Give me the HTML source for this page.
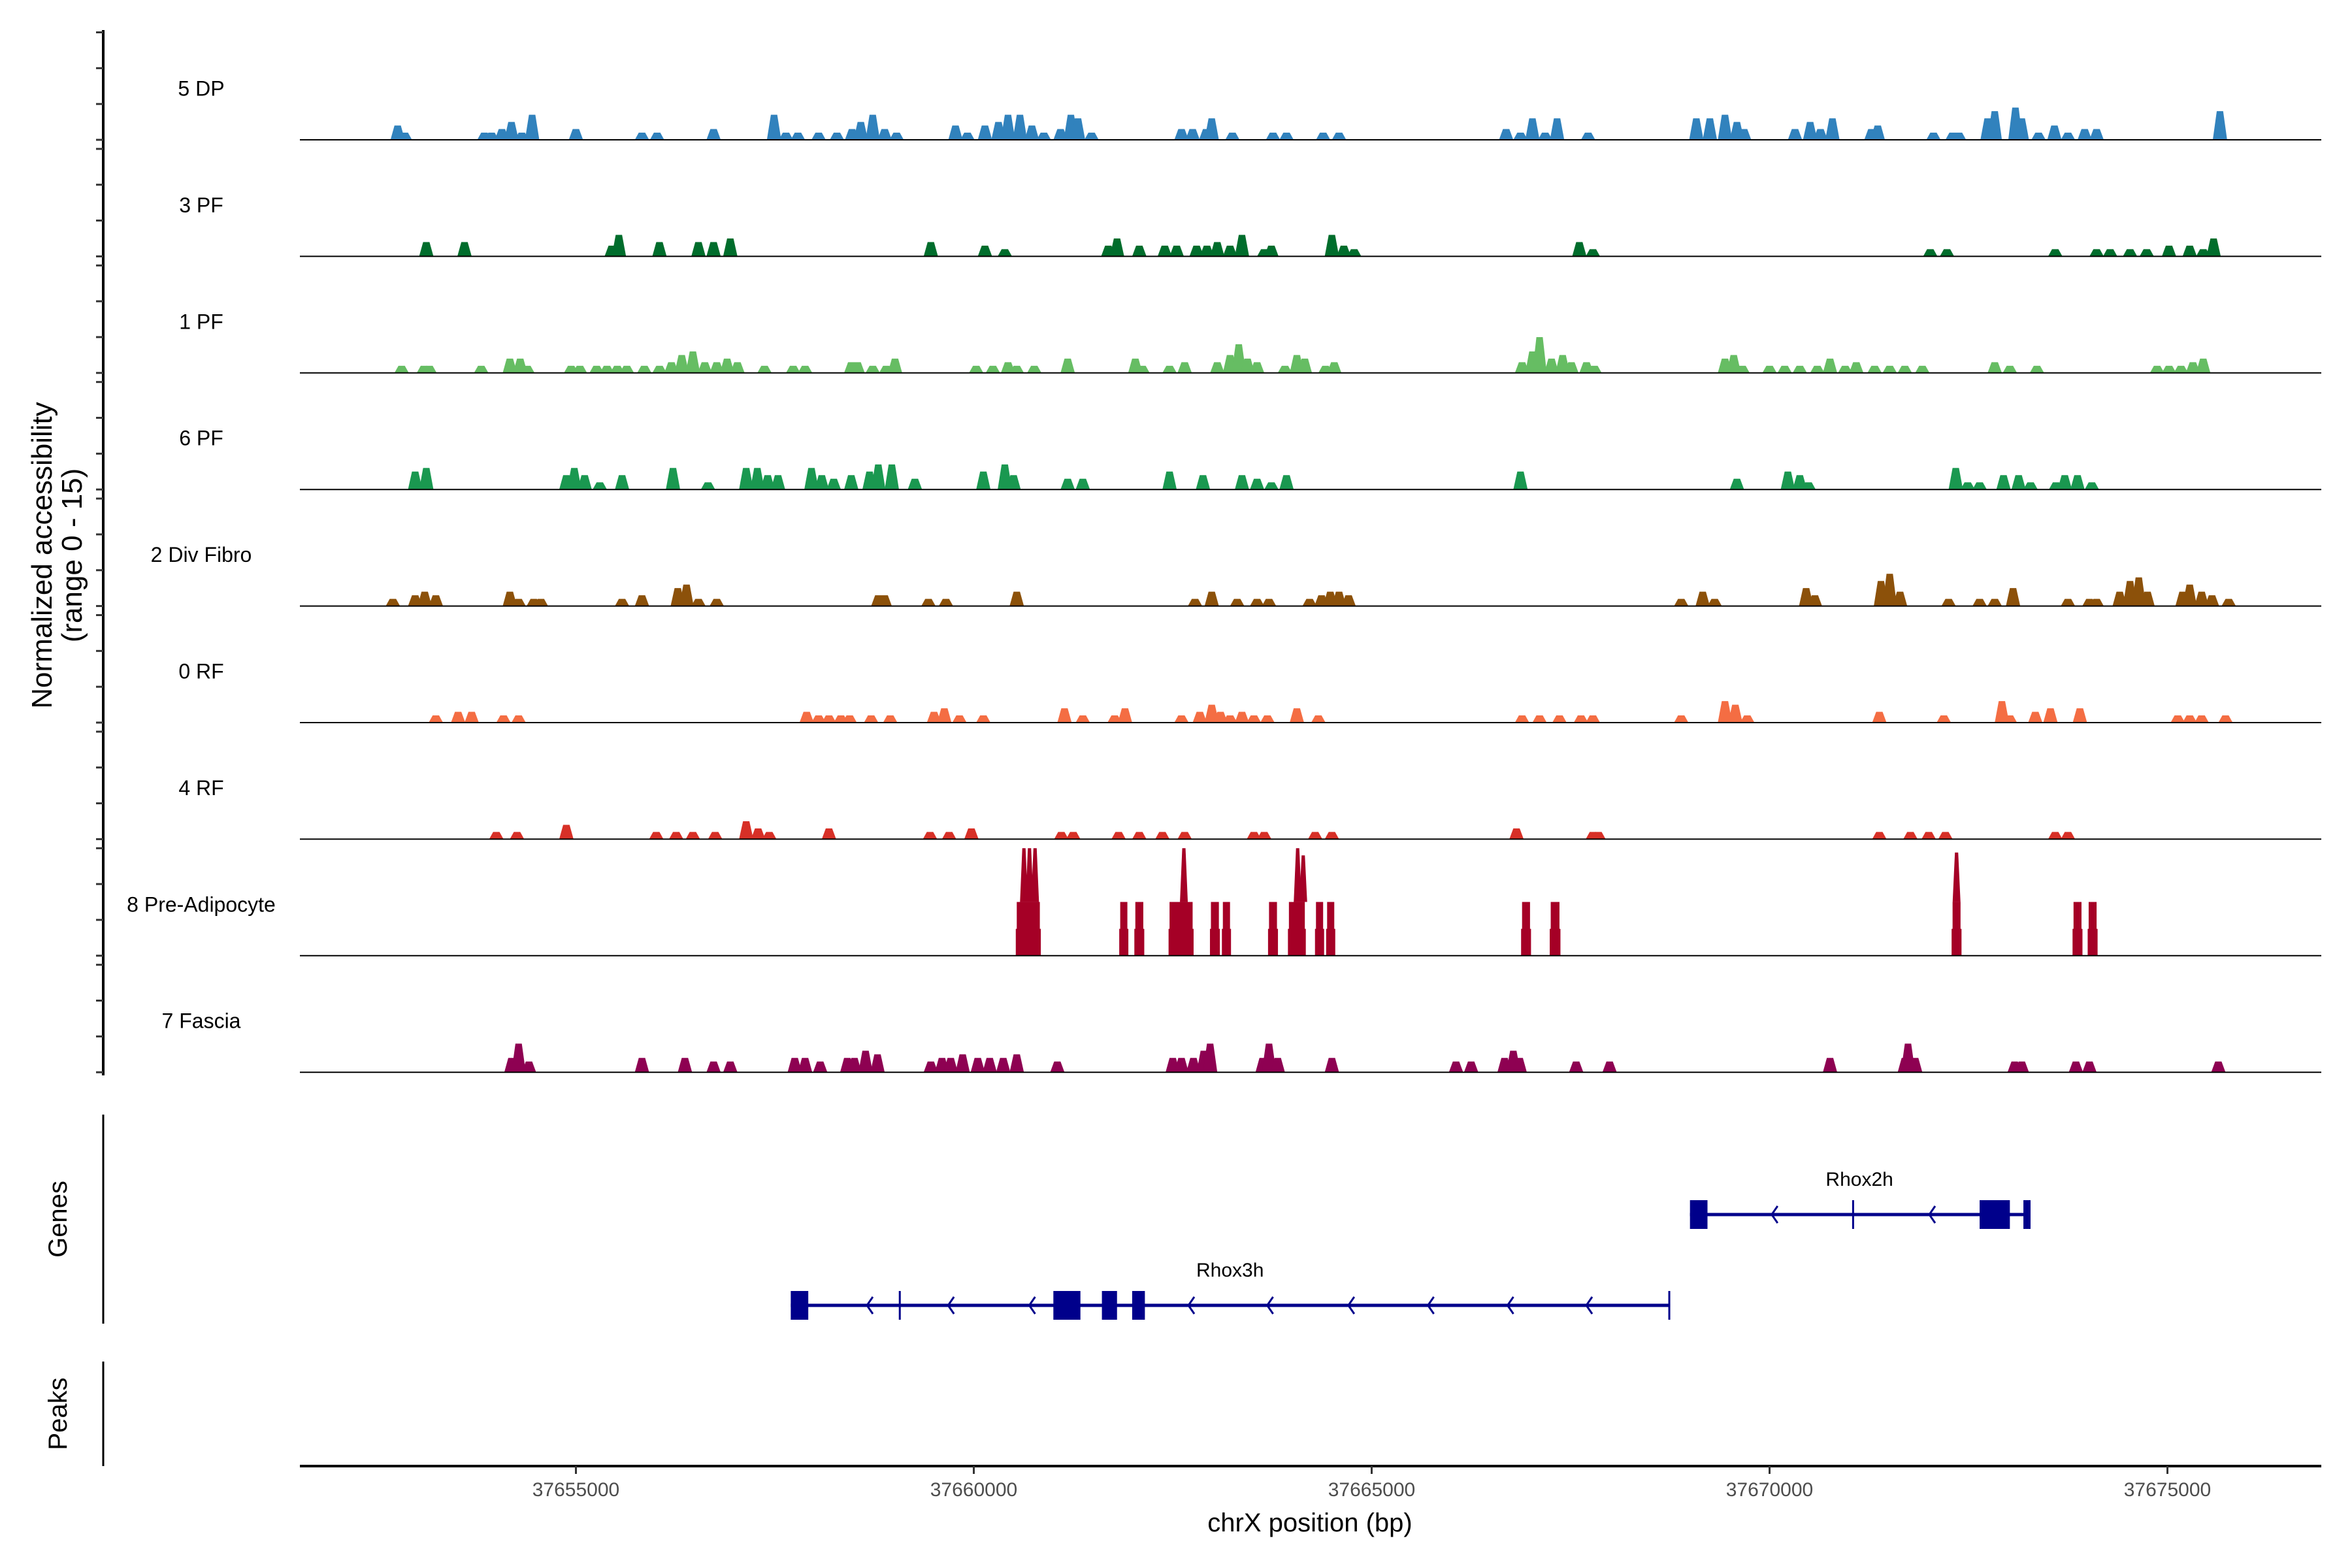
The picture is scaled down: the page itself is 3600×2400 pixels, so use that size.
<!DOCTYPE html>
<html><head><meta charset="utf-8"><style>
html,body{margin:0;padding:0;background:#fff}
svg{display:block;font-family:"Liberation Sans",Arial,sans-serif}
</style></head><body>
<svg id="chart" width="3600" height="2400" viewBox="0 0 3600 2400" xmlns="http://www.w3.org/2000/svg">
<g id="tracks"></g>
<g id="axes"></g>
<g id="genes"></g>
<text transform="translate(79,850) rotate(-90)" text-anchor="middle" font-size="44" fill="#000">Normalized accessibility</text>
<text transform="translate(125,850) rotate(-90)" text-anchor="middle" font-size="44" fill="#000">(range 0 - 15)</text>
<text transform="translate(102,1866) rotate(-90)" text-anchor="middle" font-size="40" fill="#000">Genes</text>
<text transform="translate(102,2164) rotate(-90)" text-anchor="middle" font-size="40" fill="#000">Peaks</text>
<text x="2005" y="2344" text-anchor="middle" font-size="40" fill="#000">chrX position (bp)</text>
</svg>
<script>
// positions in kb relative to chrX:37,650,000 ; heights in normalized accessibility
const regionOffset = 37650000;
const xTicks = [37655000, 37660000, 37665000, 37670000, 37675000];
const xTickLabels = ["37655000","37660000","37665000","37670000","37675000"];
const trackNames = ["5 DP","3 PF","1 PF","6 PF","2 Div Fibro","0 RF","4 RF","8 Pre-Adipocyte","7 Fascia"];
const trackColors = ["#3182bd","#006d2c","#66bd63","#1a9850","#8c510a","#f46d43","#d73027","#a50026","#8e0152"];

const dpPos = [2.76,2.85,3.85,3.94,4.07,4.19,4.32,4.45,5.00,5.83,6.02,6.73,7.49,7.64,7.79,8.05,8.28,8.47,8.58,8.73,8.88,9.03,9.77,9.92,10.14,10.31,10.43,10.58,10.73,10.88,11.09,11.22,11.31,11.48,12.61,12.75,12.92,12.99,13.25,13.76,13.93,14.39,14.59,16.69,16.87,17.02,17.18,17.33,17.72,19.08,19.25,19.44,19.59,19.68,20.32,20.51,20.64,20.79,21.28,21.36,22.06,22.30,22.38,22.74,22.83,23.09,23.17,23.38,23.58,23.75,23.96,24.11,25.66];
const dpHt  = [2,1,1,1,1.5,2.5,1,3.5,1.5,1,1,1.5,3.5,1,1,1,1,1.5,2.5,3.5,1.5,1,2,1,2,2.5,3.5,3.5,2,1,1.5,3.5,3,1,1.5,1.5,1.5,3,1,1,1,1,1,1.5,1,3,1,3,1,3,3,3.5,2.5,1.5,1.5,2.5,1.5,3,1.5,2,1,1,1,3,4,4.5,3,1,2,1,1.5,1.5,4];
const pf3Pos = [3.12,3.60,5.45,5.54,6.05,6.54,6.73,6.94,9.46,10.14,10.39,11.69,11.80,12.08,12.40,12.55,12.80,12.93,13.06,13.22,13.37,13.65,13.74,14.50,14.65,14.78,17.61,17.78,22.02,22.23,23.59,24.11,24.28,24.53,24.74,25.02,25.28,25.45,25.58];
const pf3Ht  = [2,2,1.5,3,2,2,2,2.5,2,1.5,1,1.5,2.5,1.5,1.5,1.5,1.5,1.5,2,1.5,3,1,1.5,3,1.5,1,2,1,1,1,1,1,1,1,1,1.5,1.5,1,2.5];
const pf1Pos = [2.81,3.09,3.16,3.81,4.17,4.30,4.39,4.94,5.05,5.26,5.39,5.52,5.64,5.86,6.05,6.20,6.33,6.47,6.62,6.77,6.90,7.03,7.37,7.73,7.88,8.46,8.54,8.73,8.90,9.01,10.03,10.24,10.43,10.54,10.76,11.18,12.03,12.12,12.46,12.65,13.06,13.22,13.33,13.44,13.56,13.91,14.06,14.16,14.42,14.53,16.89,17.02,17.11,17.26,17.40,17.51,17.70,17.80,19.44,19.55,19.66,20.00,20.19,20.38,20.60,20.76,20.95,21.09,21.32,21.51,21.70,21.92,22.83,23.02,23.36,24.87,25.02,25.17,25.32,25.45];
const pf1Ht  = [1,1,1,1,2,2,1,1,1,1,1,1,1,1,1,1.5,2.5,3,1.5,1.5,2,1.5,1,1,1,1.5,1.5,1,1,2,1,1,1.5,1,1,2,2,1,1,1.5,1.5,2.5,4,2,1.5,1,2.5,2,1,1.5,1.5,3,5,2,2.5,1.5,1.5,1,2,2.5,1,1,1,1,1,2,1,1.5,1,1,1,1,1.5,1,1,1,1,1,1.5,2];
const pf6Pos = [2.98,3.12,4.88,4.98,5.11,5.30,5.58,6.22,6.66,7.14,7.28,7.41,7.54,7.96,8.09,8.24,8.46,8.69,8.80,8.97,9.26,10.12,10.39,10.50,11.18,11.37,12.46,12.88,13.37,13.56,13.74,13.93,16.87,19.59,20.23,20.38,20.49,22.34,22.49,22.64,22.94,23.13,23.28,23.60,23.71,23.87,24.05];
const pf6Ht  = [2.5,3,2,3,2,1,2,3,1,3,3,2,2,3,2,1.5,2,2.5,3.5,3.5,1.5,2.5,3.5,2,1.5,1.5,2.5,2,2,1.5,1,2,2.5,1.5,2.5,2,1,3,1,1,2,2,1,1,2,2,1];
const divPos = [2.70,2.98,3.10,3.24,4.17,4.28,4.47,4.56,5.58,5.83,6.28,6.39,6.54,6.77,8.80,8.88,9.43,9.65,10.54,12.78,12.99,13.31,13.56,13.71,14.22,14.37,14.48,14.59,14.71,18.89,19.16,19.31,20.46,20.57,21.40,21.51,21.64,22.25,22.64,22.83,23.06,23.75,24.02,24.11,24.40,24.53,24.64,24.75,25.19,25.28,25.43,25.56,25.77];
const divHt  = [1,1.5,2,1.5,2,1,1,1,1,1.5,2.5,3,1,1,1.5,1.5,1,1,2,1,2,1,1,1,1,1.5,2,2,1.5,1,2,1,2.5,1.5,3.5,4.5,2,1,1,1,2.5,1,1,1,2,3.5,4,2,2,3,2,1.5,1];
const rf0Pos = [3.24,3.52,3.69,4.09,4.28,7.90,8.05,8.18,8.33,8.44,8.71,8.95,9.50,9.63,9.82,10.12,11.14,11.37,11.77,11.90,12.61,12.84,12.99,13.10,13.22,13.37,13.52,13.69,14.06,14.33,16.89,17.11,17.36,17.63,17.78,18.89,19.44,19.57,19.72,21.38,22.19,22.92,23.02,23.34,23.53,23.90,25.13,25.28,25.43,25.73];
const rf0Ht  = [1,1.5,1.5,1,1,1.5,1,1,1,1,1,1,1.5,2,1,1,2,1,1,2,1,1.5,2.5,1.5,1,1.5,1,1,2,1,1,1,1,1,1,1,3,2.5,1,1.5,1,3,1,1.5,2,2,1,1,1,1];
const rf4Pos = [4.00,4.26,4.88,6.01,6.26,6.47,6.75,7.14,7.29,7.43,8.18,9.45,9.69,9.97,11.10,11.25,11.82,12.08,12.37,12.65,13.52,13.65,14.29,14.50,16.82,17.78,17.85,21.38,21.77,22.00,22.21,23.59,23.75];
const rf4Ht  = [1,1,2,1,1,1,1,2.5,1.5,1,1.5,1,1,1.5,1,1,1,1,1,1,1,1,1,1,1.5,1,1,1,1,1,1,1,1];
// pre-adipocyte: blocks [start,end] with plateau height, plus sharp spikes
const preStart = [10.54,11.84,12.03,12.46,12.98,13.13,13.71,13.96,14.30,14.44,16.89,17.25,22.30,23.82,24.01];
const preEnd   = [10.83,11.93,12.13,12.75,13.08,13.22,13.81,14.16,14.39,14.53,16.99,17.36,22.40,23.92,24.11];
const preHt    = [7.5,7.5,7.5,7.5,7.5,7.5,7.5,7.5,7.5,7.5,7.5,7.5,7.5,7.5,7.5];
const preSpikePos = [10.63,10.70,10.77,12.64,14.07,14.14,22.35];
const preSpikeHt  = [15,15,15,15,15,14,14.4];
const fasPos = [4.19,4.28,4.41,5.83,6.37,6.73,6.94,7.75,7.88,8.07,8.41,8.50,8.64,8.79,9.46,9.60,9.71,9.86,10.05,10.20,10.37,10.54,11.05,12.50,12.61,12.76,12.89,12.97,13.63,13.71,13.82,14.50,16.06,16.25,16.67,16.78,16.86,17.57,17.99,20.76,21.70,21.74,21.83,23.08,23.17,23.85,24.02,25.64];
const fasHt  = [2,4,1.5,2,2,1.5,1.5,2,2,1.5,2,2,3,2.5,1.5,2,2,2.5,2,2,2,2.5,1.5,2,2,2,3,4,2,4,2,2,1.5,1.5,2,3,2,1.5,1.5,2,2,4,2,1.5,1.5,1.5,1.5,1.5];

// genes
const geneNames = ["Rhox2h","Rhox3h"];
const geneStart = [19.00, 7.70];
const geneEnd   = [23.26, 18.74];
const exonStarts = [[19.00,22.64,23.19],[7.70,11.00,11.61,11.99]];
const exonEnds   = [[19.22,23.02,23.28],[7.92,11.34,11.80,12.15]];
const intronMarks = [[21.05],[9.07,18.74]];
const chevrons = [[20.06,22.04],[8.69,9.71,10.73,12.73,13.72,14.74,15.74,16.74,17.73]];

const NS="http://www.w3.org/2000/svg";
function el(tag, attrs, parent){const e=document.createElementNS(NS,tag);for(const k in attrs)e.setAttribute(k,attrs[k]);parent.appendChild(e);return e;}
const X0=881.5, PXKB=121.8;
function xScale(kb){return X0+(kb-5)*PXKB;}
function xBp(bp){return xScale((bp-regionOffset)/1000);}
const baselines=[214,392.4,570.8,749.2,927.6,1106,1284.4,1462.8,1641.2];
const UNIT=164.5/15;
function yScale(i,v){return baselines[i]-v*UNIT;}

const tracks=document.getElementById('tracks');
const axes=document.getElementById('axes');
const genesG=document.getElementById('genes');
const posArr=[dpPos,pf3Pos,pf1Pos,pf6Pos,divPos,rf0Pos,rf4Pos,null,fasPos];
const htArr=[dpHt,pf3Ht,pf1Ht,pf6Ht,divHt,rf0Ht,rf4Ht,null,fasHt];

for(let i=0;i<9;i++){
  const g=el('g',{},tracks);
  
  
  const lab=el('text',{x:308,y:baselines[i]-76,'text-anchor':'middle','dominant-baseline':'middle','font-size':32,fill:'#000'},g);
  lab.textContent=trackNames[i];
  
  
  const b=baselines[i], c=trackColors[i];
  if(posArr[i]){
    const P=posArr[i],H=htArr[i];
    for(let j=0;j<P.length;j++){
      const xc=xScale(P[j]), yt=yScale(i,H[j]);
      const wb=0.09*PXKB, wt=0.04*PXKB;
      const p=el('polygon',{points:`${xc-wb},${b} ${xc-wt},${yt} ${xc+wt},${yt} ${xc+wb},${b}`,fill:c},g);
      
      
    }
  } else {
    for(let j=0;j<preStart.length;j++){
      const x1=xScale(preStart[j]), x2=xScale(preEnd[j]), yt=yScale(i,preHt[j]);
      const r=el('rect',{x:x1,y:yt,width:x2-x1,height:b-yt,fill:c},g);
      
      
      const r2=el('rect',{x:x1-1.5,y:yScale(i,preHt[j]/2),width:x2-x1+3,height:b-yScale(i,preHt[j]/2),fill:c},g);
      
      
    }
    for(let j=0;j<preSpikePos.length;j++){
      const xc=xScale(preSpikePos[j]), yt=yScale(i,preSpikeHt[j]);
      const p=el('polygon',{points:`${xc-6},${yScale(i,7.5)} ${xc-2.5},${yt} ${xc+2.5},${yt} ${xc+6},${yScale(i,7.5)}`,fill:c},g);
      
      
    }
  }
  const bl=el('line',{x1:459,x2:3553,y1:b,y2:b,stroke:'#000','stroke-width':2},g);
  
  
}
// left accessibility axis
const ya=el('line',{x1:158,x2:158,y1:46,y2:1646,stroke:'#000','stroke-width':4},axes);


for(let i=0;i<9;i++){
  for(const v of [0,5,10,15]){
    const t=el('line',{x1:147,x2:158,y1:yScale(i,v),y2:yScale(i,v),stroke:'#333','stroke-width':3},axes);
    
    
  }
}
const ga=el('line',{x1:158,x2:158,y1:1706,y2:2026,stroke:'#000','stroke-width':3},axes);


const pa=el('line',{x1:158,x2:158,y1:2084,y2:2244,stroke:'#000','stroke-width':3},axes);


const xa=el('line',{x1:459,x2:3553,y1:2244,y2:2244,stroke:'#000','stroke-width':4},axes);


for(let k=0;k<xTicks.length;k++){
  const x=xBp(xTicks[k]);
  const t=el('line',{x1:x,x2:x,y1:2244,y2:2256,stroke:'#333','stroke-width':3},axes);
  
  
  const tl=el('text',{x:x,y:2282,'text-anchor':'middle','dominant-baseline':'middle','font-size':30,fill:'#4d4d4d'},axes);
  tl.textContent=xTickLabels[k];
  
  
}
// genes
const geneY=[1859,1998];
for(let gI=0;gI<geneNames.length;gI++){
  const g=el('g',{},genesG);
  
  
  const y=geneY[gI], col='#00008b';
  el('line',{x1:xScale(geneStart[gI]),x2:xScale(geneEnd[gI]),y1:y,y2:y,stroke:col,'stroke-width':5},g);
  for(let e=0;e<exonStarts[gI].length;e++){
    const x1=xScale(exonStarts[gI][e]), x2=xScale(exonEnds[gI][e]);
    const r=el('rect',{x:x1,y:y-22,width:Math.max(x2-x1,5),height:44,fill:col},g);
    
    
  }
  for(const m of intronMarks[gI]){
    el('line',{x1:xScale(m),x2:xScale(m),y1:y-22,y2:y+22,stroke:col,'stroke-width':3},g);
  }
  for(const cv of chevrons[gI]){
    const x=xScale(cv);
    const p=el('polyline',{points:`${x+5},${y-13} ${x-4},${y} ${x+5},${y+13}`,fill:'none',stroke:col,'stroke-width':3},g);
    
    
  }
  const lbl=el('text',{x:(xScale(geneStart[gI])+xScale(geneEnd[gI]))/2,y:y-52,'text-anchor':'middle','dominant-baseline':'middle','font-size':30,fill:'#000'},g);
  lbl.textContent=geneNames[gI];
  
  
}
</script>
</body></html>
